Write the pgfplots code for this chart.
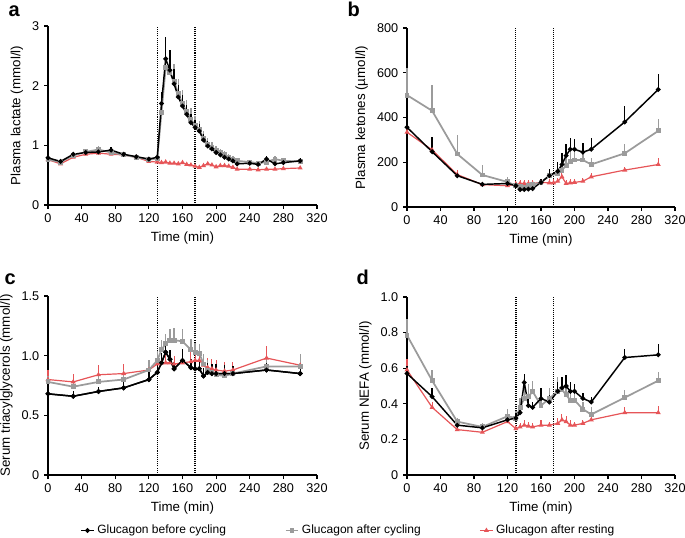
\documentclass[border=0pt]{standalone}
\usepackage{pgfplots}
\pgfplotsset{compat=1.18}
\usepackage{fontspec}
\setmainfont{Liberation Sans}
\definecolor{cblack}{RGB}{0,0,0}
\definecolor{cgray}{RGB}{155,155,155}
\definecolor{cred}{RGB}{230,85,88}

% ---------- Panel a: plasma lactate ----------
\pgfplotstableread{
t v e
0 0.79 0.04
15 0.73 0.03
30 0.85 0.04
45 0.88 0.04
60 0.89 0.05
75 0.92 0.05
90 0.85 0.04
105 0.81 0.03
120 0.77 0.03
130 0.80 0.05
135 1.70 0.20
140 2.45 0.37
145 2.26 0.33
150 2.03 0.25
155 1.81 0.20
160 1.66 0.18
165 1.52 0.15
170 1.38 0.14
175 1.30 0.12
180 1.24 0.12
185 1.09 0.10
190 0.99 0.08
195 0.94 0.07
200 0.88 0.06
205 0.84 0.06
210 0.80 0.05
215 0.77 0.05
220 0.74 0.05
225 0.69 0.04
240 0.70 0.04
250 0.68 0.04
260 0.77 0.05
270 0.69 0.04
280 0.71 0.04
300 0.74 0.05
}\aBlack
\pgfplotstableread{
t v e
0 0.76 0.04
15 0.72 0.03
30 0.83 0.04
45 0.89 0.05
60 0.93 0.06
75 0.88 0.05
90 0.84 0.04
105 0.80 0.04
120 0.76 0.03
130 0.78 0.05
135 1.55 0.25
140 2.30 0.30
145 2.22 0.35
150 2.07 0.30
155 1.87 0.25
160 1.70 0.22
165 1.56 0.20
170 1.44 0.18
175 1.33 0.16
180 1.26 0.15
185 1.12 0.12
190 1.02 0.10
195 0.97 0.08
200 0.92 0.07
205 0.88 0.06
210 0.84 0.06
215 0.80 0.05
220 0.77 0.05
225 0.74 0.05
240 0.72 0.04
250 0.70 0.04
260 0.72 0.05
270 0.77 0.05
280 0.74 0.04
300 0.73 0.04
}\aGray
\pgfplotstableread{
t v e
0 0.76 0.03
15 0.69 0.02
30 0.80 0.03
45 0.85 0.03
60 0.87 0.03
75 0.85 0.03
90 0.84 0.03
105 0.80 0.02
120 0.73 0.02
130 0.72 0.02
135 0.71 0.02
140 0.72 0.02
145 0.70 0.02
150 0.70 0.02
155 0.69 0.02
160 0.71 0.02
165 0.68 0.02
170 0.67 0.02
175 0.65 0.02
180 0.63 0.02
185 0.66 0.02
190 0.69 0.02
195 0.67 0.02
200 0.64 0.02
205 0.66 0.02
210 0.66 0.02
215 0.65 0.02
220 0.63 0.02
225 0.60 0.02
240 0.60 0.02
250 0.59 0.02
260 0.60 0.02
270 0.60 0.02
280 0.61 0.02
300 0.62 0.02
}\aRed

% ---------- Panel b: plasma ketones ----------
\pgfplotstableread{
t v e
0 356 20
30 247 65
60 140 15
90 101 10
120 105 15
130 95 10
135 78 8
140 78 8
145 80 8
150 82 8
160 110 15
170 140 30
180 160 40
185 190 50
190 230 50
195 258 50
200 258 45
210 245 40
220 258 50
260 380 70
300 525 70
}\bBlack
\pgfplotstableread{
t v e
0 500 120
30 430 115
60 237 85
90 143 45
120 112 20
130 95 15
135 90 10
140 88 10
145 95 10
150 100 10
160 110 15
170 140 20
180 150 25
185 165 30
190 185 35
195 205 40
200 210 40
210 210 35
220 190 30
260 240 40
300 340 55
}\bGray
\pgfplotstableread{
t v e
0 334 15
30 255 20
60 145 20
90 100 10
120 95 10
130 102 15
135 105 15
140 105 15
145 105 15
150 105 15
160 110 15
170 108 15
175 108 15
180 115 15
185 135 15
190 105 15
195 108 15
200 110 15
210 115 15
220 135 15
260 165 15
300 190 30
}\bRed

% ---------- Panel c: serum TAG ----------
\pgfplotstableread{
t v e
0 0.68 0.04
30 0.66 0.04
60 0.70 0.04
90 0.73 0.05
120 0.80 0.08
130 0.86 0.06
135 0.94 0.08
140 1.03 0.08
145 0.97 0.08
150 0.89 0.06
160 0.96 0.10
170 0.90 0.07
175 0.89 0.07
180 0.89 0.07
185 0.83 0.07
190 0.86 0.08
195 0.85 0.08
200 0.85 0.08
210 0.85 0.07
220 0.85 0.06
260 0.88 0.06
300 0.85 0.05
}\cBlack
\pgfplotstableread{
t v e
0 0.78 0.05
30 0.74 0.06
60 0.78 0.07
90 0.80 0.08
120 0.88 0.08
130 0.96 0.08
135 1.05 0.08
140 1.10 0.08
145 1.13 0.09
150 1.13 0.10
160 1.12 0.10
170 1.05 0.09
175 1.03 0.08
180 1.02 0.08
185 0.93 0.08
190 0.88 0.08
195 0.86 0.07
200 0.84 0.07
210 0.83 0.07
220 0.85 0.06
260 0.91 0.08
300 0.91 0.10
}\cGray
\pgfplotstableread{
t v e
0 0.80 0.08
30 0.78 0.07
60 0.84 0.08
90 0.85 0.08
120 0.88 0.06
130 0.93 0.07
135 0.94 0.07
140 0.94 0.07
145 0.94 0.07
150 0.93 0.07
160 0.94 0.07
170 0.95 0.08
175 0.96 0.08
180 0.96 0.08
185 0.92 0.08
190 0.90 0.08
195 0.89 0.08
200 0.88 0.08
210 0.87 0.08
220 0.88 0.07
260 0.98 0.10
300 0.92 0.07
}\cRed

% ---------- Panel d: serum NEFA ----------
\pgfplotstableread{
t v e
0 0.57 0.04
30 0.44 0.05
60 0.28 0.02
90 0.265 0.02
120 0.31 0.03
130 0.32 0.03
135 0.35 0.03
140 0.52 0.05
145 0.39 0.04
150 0.38 0.03
160 0.43 0.06
170 0.41 0.04
180 0.47 0.05
185 0.49 0.06
190 0.50 0.06
195 0.47 0.05
200 0.47 0.04
210 0.43 0.03
220 0.41 0.03
260 0.66 0.05
300 0.675 0.06
}\dBlack
\pgfplotstableread{
t v e
0 0.785 0.09
30 0.53 0.06
60 0.30 0.02
90 0.27 0.02
120 0.33 0.04
130 0.32 0.04
135 0.38 0.05
140 0.43 0.06
145 0.44 0.07
150 0.47 0.06
160 0.39 0.06
170 0.43 0.06
180 0.47 0.08
185 0.48 0.07
190 0.45 0.07
195 0.42 0.06
200 0.42 0.05
210 0.37 0.04
220 0.34 0.04
260 0.435 0.04
300 0.53 0.05
}\dGray
\pgfplotstableread{
t v e
0 0.59 0.06
30 0.38 0.03
60 0.255 0.01
90 0.24 0.01
120 0.30 0.01
130 0.26 0.02
135 0.27 0.02
140 0.28 0.03
145 0.275 0.02
150 0.27 0.02
160 0.28 0.03
170 0.28 0.02
180 0.29 0.03
185 0.31 0.03
190 0.30 0.03
195 0.28 0.03
200 0.28 0.02
210 0.29 0.02
220 0.31 0.02
260 0.35 0.03
300 0.35 0.04
}\dRed

\tikzset{
  vdot/.style={line width=1pt, dash pattern=on 0.8pt off 0.8pt},
  vdotthin/.style={line width=0.6pt, dash pattern=on 0.6pt off 0.9pt},
}
\pgfplotsset{
  panel/.style={
    scale only axis,
    xmin=0, xmax=320, ymin=0,
    xtick={0,40,...,320},
    axis x line=bottom, axis y line=left,
    axis line style={-, line width=1.1pt},
    tick align=outside,
    major tick length=3pt,
    tick style={line width=0.8pt, black},
    tick label style={font=\fontsize{9.5}{10}\selectfont},
    label style={font=\fontsize{10}{12}\selectfont},
    xlabel={Time (min)},
    /pgf/number format/assume math mode=true,
    clip=false,
    error bars/y dir=plus,
    error bars/y explicit,
    error bars/error mark=none,
  },
  sblack/.style={color=cblack, line width=1.1pt, mark=*, mark size=1.2pt,
    error bars/error bar style={line width=1pt, cblack}},
  sgray/.style={color=cgray, line width=1.3pt, mark=square*, mark size=1.2pt,
    error bars/error bar style={line width=1pt, cgray}},
  sred/.style={color=cred, line width=0.9pt, mark=triangle*, mark size=1.3pt,
    error bars/error bar style={line width=0.8pt, cred}},
}

\begin{document}
\begin{tikzpicture}
\path[use as bounding box] (0,0) rectangle (513.75pt,-403.5pt);

% Panel a
\begin{axis}[panel, at={(36pt,-153.75pt)}, anchor=south west,
  width=201.75pt, height=134.25pt, ymax=3, ytick={0,1,2,3},
  ylabel={Plasma lactate (mmol/l)}]
\draw[vdot] (axis cs:130,0) -- (axis cs:130,3);
\draw[vdot] (axis cs:175,0) -- (axis cs:175,3);
\addplot[sred] table[x=t, y=v, y error=e] {\aRed};
\addplot[sgray] table[x=t, y=v, y error=e] {\aGray};
\addplot[sblack] table[x=t, y=v, y error=e] {\aBlack};
\end{axis}

% Panel b
\begin{axis}[panel, at={(305.25pt,-155.25pt)}, anchor=south west,
  width=201pt, height=134.25pt, ymax=800, ytick={0,200,400,600,800},
  ylabel={Plasma ketones (µmol/l)}]
\draw[vdotthin] (axis cs:130,0) -- (axis cs:130,800);
\draw[vdotthin] (axis cs:175,0) -- (axis cs:175,800);
\addplot[sred] table[x=t, y=v, y error=e] {\bRed};
\addplot[sgray] table[x=t, y=v, y error=e] {\bGray};
\addplot[sblack] table[x=t, y=v, y error=e] {\bBlack};
\end{axis}

% Panel c
\begin{axis}[panel, at={(36pt,-356.25pt)}, anchor=south west,
  width=201.75pt, height=134.25pt, ymax=1.5, ytick={0,0.5,1.0,1.5},
  yticklabels={0,0.5,1.0,1.5},
  ylabel={Serum triacylglycerols (mmol/l)},
  legend columns=3,
  legend style={at={(0.104,-0.31)}, anchor=west, draw=none, fill=none,
    font=\fontsize{9}{10}\selectfont,
    /tikz/every even column/.append style={column sep=42pt}},
  legend image code/.code={\draw[mark repeat=2,mark phase=2,#1] plot coordinates {(0cm,0cm) (0.17cm,0cm) (0.34cm,0cm)};}]
\draw[vdot] (axis cs:130,0) -- (axis cs:130,1.5);
\draw[vdot] (axis cs:175,0) -- (axis cs:175,1.5);
\addplot[sblack, forget plot] table[x=t, y=v, y error=e] {\cBlack};
\addplot[sred, forget plot] table[x=t, y=v, y error=e] {\cRed};
\addplot[sgray, forget plot] table[x=t, y=v, y error=e] {\cGray};
\addplot[sblack] table[x=t, y=v, y error=e] {\cBlack};
\addlegendimage{sgray}
\addlegendimage{sred}
\legend{Glucagon before cycling, Glucagon after cycling, Glucagon after resting}
\end{axis}

% Panel d
\begin{axis}[panel, at={(305.25pt,-356.25pt)}, anchor=south west,
  width=201pt, height=133.5pt, ymax=1.0, ytick={0,0.2,0.4,0.6,0.8,1.0},
  yticklabels={0,0.2,0.4,0.6,0.8,1.0},
  ylabel={Serum NEFA (mmol/l)}]
\draw[vdot] (axis cs:130,0) -- (axis cs:130,1.0);
\draw[vdot] (axis cs:175,0) -- (axis cs:175,1.0);
\addplot[sred] table[x=t, y=v, y error=e] {\dRed};
\addplot[sgray] table[x=t, y=v, y error=e] {\dGray};
\addplot[sblack] table[x=t, y=v, y error=e] {\dBlack};
\end{axis}

\node[anchor=base west, font=\fontsize{15}{15}\selectfont\bfseries] at (3pt,-12.75pt) {a};
\node[anchor=base west, font=\fontsize{15}{15}\selectfont\bfseries] at (257.25pt,-12.75pt) {b};
\node[anchor=base west, font=\fontsize{15}{15}\selectfont\bfseries] at (0pt,-213pt) {c};
\node[anchor=base west, font=\fontsize{15}{15}\selectfont\bfseries] at (264pt,-213.75pt) {d};
\end{tikzpicture}
\end{document}
